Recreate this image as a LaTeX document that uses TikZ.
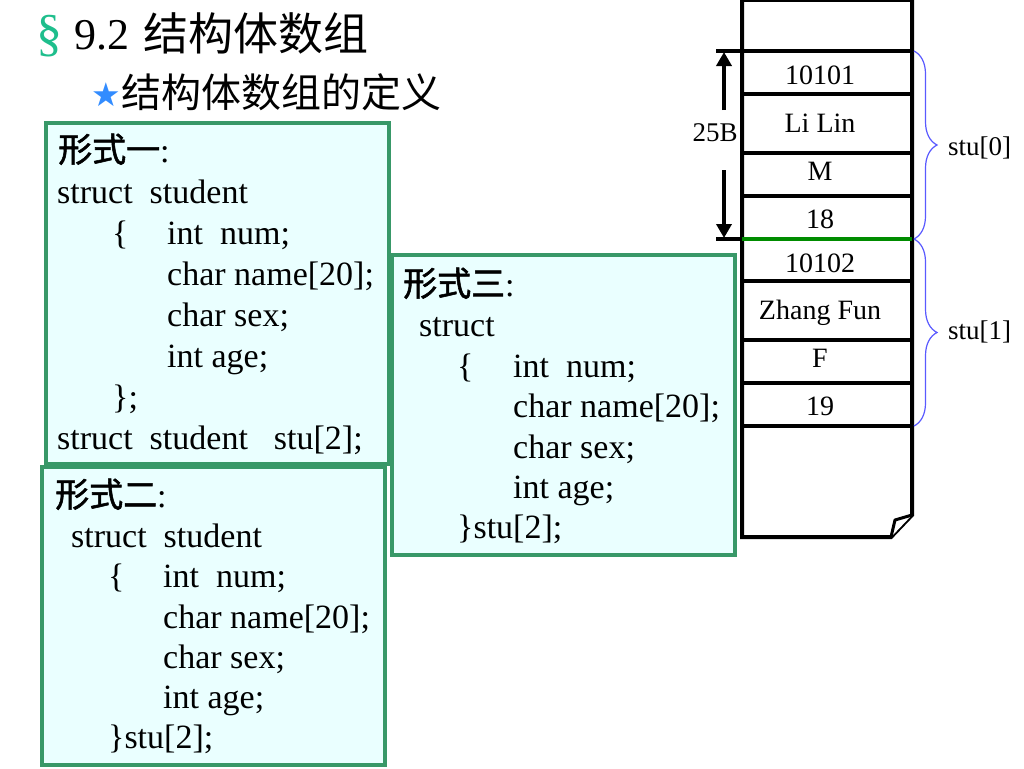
\documentclass[tikz,border=0pt]{standalone}
\usepackage{fontspec}
\setmainfont{Liberation Serif}
\newfontfamily\cjk{Noto Sans CJK SC}
\newfontfamily\cjkm[FakeBold=1.6]{Noto Sans CJK SC}
\newfontfamily\djv{DejaVu Sans}
\usetikzlibrary{decorations.pathreplacing,arrows.meta}
\definecolor{boxgreen}{RGB}{56,152,104}
\definecolor{boxfill}{RGB}{234,255,255}
\definecolor{secgreen}{RGB}{30,190,140}
\definecolor{starblue}{RGB}{50,140,255}
\definecolor{bracecol}{RGB}{90,90,255}
\definecolor{divgreen}{RGB}{0,140,0}
\begin{document}
\begin{tikzpicture}[x=1pt,y=-1pt,
  codebox/.style={draw=boxgreen, fill=boxfill, line width=3.5pt, anchor=north west, inner sep=0pt, outer sep=0pt},
  code/.style={anchor=base west, inner sep=0pt, font=\fontsize{34}{41}\selectfont},
  cell/.style={anchor=base, inner sep=0pt, font=\fontsize{28}{32}\selectfont},
  memline/.style={line width=4pt},
  arr/.style={line width=3.5pt, -{Triangle[length=14pt,width=15pt]}},
  bracestyle/.style={draw=bracecol, line width=1.2pt, decorate, decoration={brace, amplitude=23pt}}]
\useasboundingbox (0,0) rectangle (1024,768);
\fill[white] (0,0) rectangle (1024,768);

% title
\node[anchor=base west, inner sep=0pt, text=secgreen, font=\fontsize{52}{52}\selectfont] (sec) at (36,51) {§};
\node[anchor=base west, inner sep=0pt, font=\fontsize{44}{44}\selectfont] (tnum) at (74,49) {9.2};
\node[anchor=base west, inner sep=0pt, font=\fontsize{45}{45}\selectfont\cjk] (tcjk) at (143,51) {结构体数组};
\node[anchor=base west, inner sep=0pt, text=starblue, font=\fontsize{33}{33}\selectfont\djv] (star) at (91,106) {★};
\node[anchor=base west, inner sep=0pt, font=\fontsize{40}{40}\selectfont\cjk] (sub) at (121,107) {结构体数组的定义};

% boxes
\node[codebox, minimum width=343pt, minimum height=341pt] (box1) at (46,123) {};
\node[codebox, minimum width=343pt, minimum height=298pt] (box2) at (42,467) {};
\node[codebox, minimum width=343pt, minimum height=300pt] (box3) at (392,255) {};

% box 1
\node[code] (b1a) at (58,162) {{\cjkm 形式一}:};
\node[code] (b1b) at (57,203) {struct\hspace{17pt}student};
\node[code] (b1c) at (112,244) {\makebox[55pt][l]{\{}int\hspace{17pt}num;};
\node[code] (b1d) at (167,285) {char name[20];};
\node[code] (b1e) at (167,326) {char sex;};
\node[code] (b1f) at (167,367) {int age;};
\node[code] (b1g) at (112,408) {\};};
\node[code] (b1h) at (57,449) {struct\hspace{17pt}student\hspace{26pt}stu[2];};

% box 2
\node[code] (b2a) at (55,507) {{\cjkm 形式二}:};
\node[code] (b2b) at (71,547) {struct\hspace{17pt}student};
\node[code] (b2c) at (108,587) {\makebox[55pt][l]{\{}int\hspace{17pt}num;};
\node[code] (b2d) at (163,628) {char name[20];};
\node[code] (b2e) at (163,668) {char sex;};
\node[code] (b2f) at (163,708) {int age;};
\node[code] (b2g) at (108,748) {\}stu[2];};

% box 3
\node[code] (b3a) at (403,296) {{\cjkm 形式三}:};
\node[code] (b3b) at (419,336) {struct};
\node[code] (b3c) at (457,377) {\makebox[56pt][l]{\{}int\hspace{17pt}num;};
\node[code] (b3d) at (513,417) {char name[20];};
\node[code] (b3e) at (513,458) {char sex;};
\node[code] (b3f) at (513,498) {int age;};
\node[code] (b3g) at (457,538) {\}stu[2];};

% memory column
\draw[memline, line join=miter] (742,0) -- (742,537) -- (891,537) -- (912,515) -- (912,0) -- cycle;
\draw[line width=3pt, line join=round, fill=white] (891,537) -- (895,520) -- (912,515);
\foreach \yy in {51,94,153,196,281,340,383,426} {
  \draw[memline] (742,\yy) -- (912,\yy);
}
\draw[memline] (716,51) -- (742,51);
\draw[memline] (716,239) -- (742,239);
\draw[memline, draw=divgreen] (742,239) -- (912,239);

\node[cell] (c1) at (820,84) {10101};
\node[cell] (c2) at (820,132) {Li Lin};
\node[cell] (c3) at (820,180) {M};
\node[cell] (c4) at (820,228) {18};
\node[cell] (c5) at (820,272) {10102};
\node[cell] (c6) at (820,319) {Zhang Fun};
\node[cell] (c7) at (820,367) {F};
\node[cell] (c8) at (820,415) {19};

% size arrow
\node[anchor=center, inner sep=0pt, font=\fontsize{27}{32}\selectfont] (sz) at (715,133) {25B};
\coordinate (up0) at (724,110);
\coordinate (up1) at (724,52);
\coordinate (dn0) at (724,170);
\coordinate (dn1) at (724,238);
\draw[arr] (up0) -- (up1);
\draw[arr] (dn0) -- (dn1);

% braces
\coordinate (br0a) at (914,51);
\coordinate (br0b) at (914,239);
\coordinate (br1a) at (914,239);
\coordinate (br1b) at (914,426);
\draw[bracestyle] (br0a) -- (br0b);
\draw[bracestyle] (br1a) -- (br1b);
\node[anchor=base west, inner sep=0pt, font=\fontsize{27}{32}\selectfont] (s0) at (948,155) {stu[0]};
\node[anchor=base west, inner sep=0pt, font=\fontsize{27}{32}\selectfont] (s1) at (948,339) {stu[1]};
\end{tikzpicture}
\end{document}
